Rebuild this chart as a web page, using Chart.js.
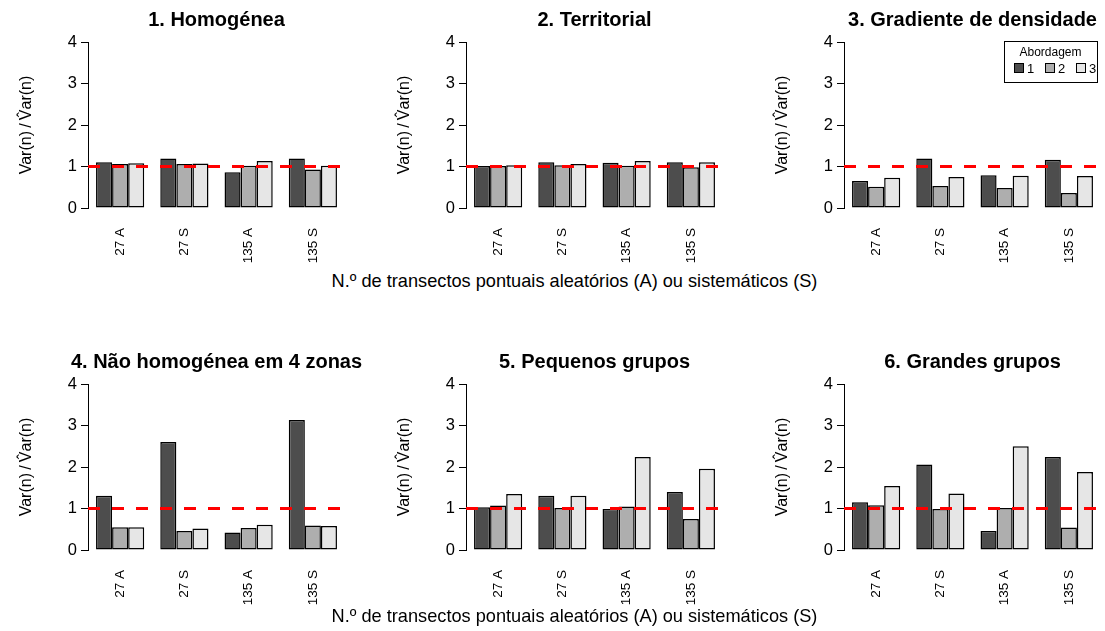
<!DOCTYPE html>
<html>
<head>
<meta charset="utf-8">
<script src="https://cdn.jsdelivr.net/npm/chart.js@4.4.1/dist/chart.umd.min.js"></script>
<style>
  body { margin: 0; background: #fff; width: 1105px; height: 631px; position: relative; overflow: hidden;
         font-family: "Liberation Sans", Arial, Helvetica, sans-serif; }
  canvas { position: absolute; }
  .xtitle { position: absolute; left: 22px; width: 1105px; text-align: center; font-size: 18.2px;
            line-height: 20px; color: #000; white-space: nowrap; }
</style>
</head>
<body>
<canvas id="p1" width="370" height="270"></canvas>
<canvas id="p2" width="370" height="270"></canvas>
<canvas id="p3" width="370" height="270"></canvas>
<canvas id="p4" width="370" height="270"></canvas>
<canvas id="p5" width="370" height="270"></canvas>
<canvas id="p6" width="370" height="270"></canvas>
<div class="xtitle" style="top:271px">N.º de transectos pontuais aleatórios (A) ou sistemáticos (S)</div>
<div class="xtitle" style="top:606px">N.º de transectos pontuais aleatórios (A) ou sistemáticos (S)</div>
<script>
var categories = ['27 A', '27 S', '135 A', '135 S'];
var approaches = ['1', '2', '3'];
var yTicks = [0, 1, 2, 3, 4];
var referenceRatio = 1;

// Var(n)/V^ar(n) for approaches 1, 2, 3 (one row each), per category
var homogenea   = [[1.10, 1.19, 0.86, 1.19], [1.06, 1.06, 1.02, 0.93], [1.08, 1.07, 1.13, 1.02]];
var territorial = [[1.01, 1.10, 1.09, 1.10], [1.01, 1.03, 1.02, 0.98], [1.03, 1.06, 1.13, 1.10]];
var gradiente   = [[0.65, 1.19, 0.79, 1.16], [0.51, 0.53, 0.48, 0.36], [0.73, 0.75, 0.78, 0.77]];
var quatroZonas = [[1.31, 2.60, 0.42, 3.13], [0.55, 0.46, 0.53, 0.59], [0.55, 0.52, 0.61, 0.58]];
var pequenos    = [[1.03, 1.31, 0.99, 1.40], [1.07, 1.01, 1.05, 0.75], [1.35, 1.31, 2.24, 1.96]];
var grandes     = [[1.15, 2.06, 0.46, 2.24], [1.08, 0.99, 1.01, 0.54], [1.54, 1.36, 2.50, 1.88]];

var panelTitles = [
  '1. Homogénea', '2. Territorial', '3. Gradiente de densidade',
  '4. Não homogénea em 4 zonas', '5. Pequenos grupos', '6. Grandes grupos'
];
var panelData = [homogenea, territorial, gradiente, quatroZonas, pequenos, grandes];
var yTitle = 'Var(n)\u2009/\u2009V\u0302ar(n)';
var legendTitle = 'Abordagem';

// layout
var barColors = ['#4D4D4D', '#AEAEAE', '#E6E6E6'];
var colLeft = [0, 378, 756];
var rowTop = [0, 342];
var plotLeft = 88, plotTop = 42, plotWidth = 257, plotHeight = 166;
var canvasW = 370, canvasH = 270;
var FONT = '"Liberation Sans", Arial, Helvetica, sans-serif';

var panelPlugin = {
  id: 'panelDecor',
  afterDatasetsDraw: function (chart) {
    var ca = chart.chartArea;
    var y = chart.scales.y.getPixelForValue(referenceRatio);
    var ctx = chart.ctx;
    ctx.save();
    ctx.strokeStyle = '#FF0000';
    ctx.lineWidth = 3;
    ctx.setLineDash([12, 12]);
    ctx.beginPath();
    ctx.moveTo(ca.left, y);
    ctx.lineTo(ca.right, y);
    ctx.stroke();
    ctx.restore();
  },
  afterDraw: function (chart, args, opts) {
    var ca = chart.chartArea;
    var ctx = chart.ctx;
    ctx.save();
    ctx.fillStyle = '#000';
    // panel title
    ctx.font = 'bold 20px ' + FONT;
    ctx.textAlign = 'center';
    ctx.textBaseline = 'middle';
    ctx.fillText(opts.title, (ca.left + ca.right) / 2, 20);
    // y-axis title
    ctx.font = '16px ' + FONT;
    ctx.translate(ca.left - 61, (ca.top + ca.bottom) / 2);
    ctx.rotate(-Math.PI / 2);
    ctx.fillText(yTitle, 0, 0);
    ctx.restore();

    if (opts.legend) drawLegend(chart);
  }
};

function drawLegend(chart) {
  var ca = chart.chartArea;
  var ctx = chart.ctx;
  var w = 93, h = 41;
  var x0 = ca.right - w - 4, y0 = ca.top - 1;
  ctx.save();
  ctx.fillStyle = '#fff';
  ctx.fillRect(x0, y0, w, h);
  ctx.strokeStyle = '#000';
  ctx.lineWidth = 1;
  ctx.strokeRect(x0 + 0.5, y0 + 0.5, w, h);
  ctx.fillStyle = '#000';
  ctx.font = '12px ' + FONT;
  ctx.textAlign = 'center';
  ctx.textBaseline = 'middle';
  ctx.fillText(legendTitle, x0 + w / 2, y0 + 12);
  ctx.textAlign = 'left';
  chart.data.datasets.forEach(function (ds, i) {
    var sx = x0 + 10, sy = y0 + 22;
    sx += i * 31;
    ctx.fillStyle = ds.backgroundColor;
    ctx.fillRect(sx, sy, 10, 10);
    ctx.strokeStyle = '#000';
    ctx.strokeRect(sx + 0.5, sy + 0.5, 9, 9);
    ctx.fillStyle = '#000';
    ctx.font = '13px ' + FONT;
    ctx.fillText(ds.label, sx + 13, sy + 6);
  });
  ctx.restore();
}

function makePanel(idx) {
  var col = idx % 3, row = Math.floor(idx / 3);
  var canvas = document.getElementById('p' + (idx + 1));
  canvas.style.left = colLeft[col] + 'px';
  canvas.style.top = rowTop[row] + 'px';

  var datasets = panelData[idx].map(function (values, i) {
    return {
      label: approaches[i],
      data: values,
      backgroundColor: barColors[i],
      borderColor: '#000',
      borderWidth: 1.5,
      borderSkipped: false,
      categoryPercentage: 0.75,
      barPercentage: 1.0
    };
  });

  return new Chart(canvas.getContext('2d'), {
    type: 'bar',
    data: { labels: categories, datasets: datasets },
    plugins: [panelPlugin],
    options: {
      responsive: false,
      animation: false,
      events: [],
      layout: {
        padding: {
          left: plotLeft - 48,
          top: plotTop,
          right: canvasW - plotLeft - plotWidth,
          bottom: 0
        }
      },
      plugins: {
        legend: { display: false },
        tooltip: { enabled: false },
        panelDecor: { title: panelTitles[idx], legend: idx === 2 }
      },
      scales: {
        x: {
          grid: { display: false, drawTicks: false },
          border: { display: false },
          afterFit: function (s) { s.height = canvasH - plotTop - plotHeight; },
          ticks: {
            autoSkip: false,
            minRotation: 90,
            maxRotation: 90,
            padding: 20,
            color: '#000',
            font: { family: FONT, size: 13.5 }
          }
        },
        y: {
          min: 0,
          max: 4,
          afterFit: function (s) { s.width = 48; },
          afterBuildTicks: function (s) {
            s.ticks = yTicks.map(function (v) { return { value: v }; });
          },
          grid: {
            drawOnChartArea: false,
            drawTicks: true,
            tickLength: 7,
            color: '#000'
          },
          border: { display: true, color: '#000', width: 1 },
          ticks: {
            padding: 4,
            color: '#000',
            font: { family: FONT, size: 16.5 }
          }
        }
      }
    }
  });
}

for (var i = 0; i < 6; i++) makePanel(i);
</script>
</body>
</html>
